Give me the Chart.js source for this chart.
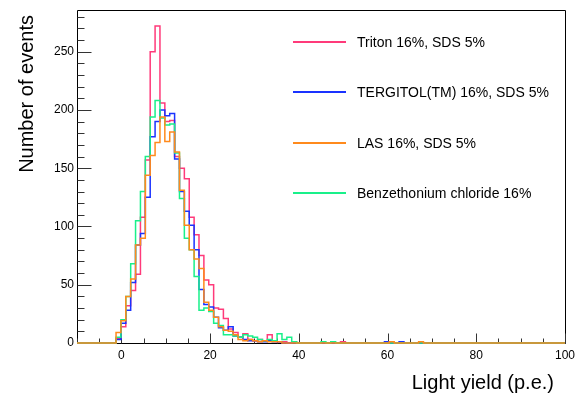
<!DOCTYPE html>
<html>
<head>
<meta charset="utf-8">
<script src="https://cdn.jsdelivr.net/npm/chart.js@4/dist/chart.umd.min.js"></script>
<style>
  html, body { margin: 0; padding: 0; background: #ffffff; }
  #c { display: block; }
</style>
</head>
<body>
<canvas id="c" width="580" height="396"></canvas>
<script>
// ---------- data ----------
const binLow = -10;
const binHigh = 100;
const nBins = 100;

const seriesNames = [
  "Triton 16%, SDS 5%",
  "TERGITOL(TM) 16%, SDS 5%",
  "LAS 16%, SDS 5%",
  "Benzethonium chloride 16%"
];

const triton = [
  0,0,0,0,0,0,0,0,4,14,
  32,45,59,108,157,250,272,206,190,191,
  160,150,141,108,93,75,54,50,30,29,
  21,12,9,5,8,3,2,3,2,7,
  2,1,1,0,1,0,0,0,0,0,
  0,0,0,0,1,0,0,0,0,0,
  0,0,0,0,0,0,0,0,0,0,
  0,0,0,0,0,0,0,0,0,0,
  0,0,0,0,0,0,0,0,0,0,
  0,0,0,0,0,0,0,0,0,0
];
const tergitol = [
  0,0,0,0,0,0,0,0,3,17,
  28,52,84,94,125,177,190,200,195,197,
  158,130,113,101,80,46,33,31,22,13,
  11,14,6,5,3,2,2,1,1,2,
  1,1,0,0,0,0,0,0,0,0,
  0,0,0,0,0,0,0,0,0,0,
  0,0,0,1,0,0,1,0,0,0,
  0,0,0,0,0,0,0,0,0,0,
  0,0,0,0,0,0,0,0,0,0,
  0,0,0,0,0,0,0,0,0,0
];
const las = [
  0,0,0,0,0,0,0,0,9,19,
  40,55,84,90,144,161,172,194,173,181,
  164,131,101,80,72,64,35,28,22,14,
  11,10,7,3,2,3,2,1,2,1,
  1,1,0,0,0,0,0,0,0,0,
  0,0,0,0,0,0,0,0,0,0,
  0,0,0,0,1,0,0,0,0,0,
  1,0,0,0,0,0,0,0,0,0,
  0,0,0,0,0,0,0,0,0,0,
  0,0,0,0,0,0,0,0,0,0
];
const benzethonium = [
  0,0,0,0,0,0,0,0,5,20,
  40,68,105,130,160,194,208,193,187,188,
  163,124,90,80,57,28,30,27,17,15,
  7,7,6,5,7,6,5,3,2,3,
  2,8,3,5,1,0,0,0,0,0,
  1,0,1,0,0,0,0,0,0,0,
  0,0,0,0,0,0,0,0,0,0,
  0,0,0,0,0,0,0,0,0,0,
  0,0,0,0,0,0,0,0,0,0,
  0,0,0,0,0,0,0,0,0,0
];

const xTickLabels = [0, 20, 40, 60, 80, 100];
const yTickLabels = [0, 50, 100, 150, 200, 250];
const yMax = 285.6;

const colors = ["#ff3a7a", "#1a33ff", "#ff8a1c", "#19f08a"];
const seriesValues = [triton, tergitol, las, benzethonium];
const drawOrder = [4, 3, 1, 2]; // LAS on top

// ---------- build histogram outlines (bin edges) ----------
const binWidth = (binHigh - binLow) / nBins;
function toSteps(counts) {
  const pts = [];
  for (let k = 0; k < counts.length; k++) {
    pts.push({ x: binLow + k * binWidth, y: counts[k] });
  }
  pts.push({ x: binHigh, y: counts[counts.length - 1] });
  return pts;
}

const FONT = "'Liberation Sans', Arial, Helvetica, sans-serif";
Chart.defaults.font.family = FONT;
Chart.defaults.color = "#000";

const decor = {
  id: "rootDecor",
  beforeDatasetsDraw(chart) {
    const ctx = chart.ctx;
    const xs = chart.scales.x, ys = chart.scales.y;
    const a = chart.chartArea;
    const L = Math.round(a.left) + 0.5, R = Math.round(a.right) + 0.5;
    const T = Math.round(a.top) + 0.5, B = Math.round(a.bottom) + 0.5;
    ctx.save();
    ctx.strokeStyle = "#000";
    ctx.lineWidth = 1;
    ctx.beginPath();
    ctx.rect(L, T, R - L, B - T);
    ctx.stroke();
    ctx.strokeStyle = "#333";
    ctx.beginPath();
    for (let v = 0; v <= yMax; v += 10) {
      const y = Math.round(ys.getPixelForValue(v)) + 0.5;
      const len = (v % 50 === 0) ? 14 : 7;
      ctx.moveTo(L, y); ctx.lineTo(L + len, y);
    }
    for (let v = -10; v <= 100; v += 5) {
      const x = Math.round(xs.getPixelForValue(v)) + 0.5;
      const len = (v % 20 === 0) ? 10 : 5;
      ctx.moveTo(x, B); ctx.lineTo(x, B - len);
    }
    ctx.stroke();
    ctx.restore();
  },
  afterDraw(chart) {
    const ctx = chart.ctx;
    ctx.save();
    ctx.fillStyle = "#000";
    ctx.font = "20px " + FONT;
    ctx.textAlign = "right";
    ctx.textBaseline = "alphabetic";
    ctx.fillText("Light yield (p.e.)", 554, 389);
    ctx.save();
    ctx.translate(33, 15);
    ctx.rotate(-Math.PI / 2);
    ctx.fillText("Number of events", 0, 0);
    ctx.restore();
    const rows = [42, 92, 143, 193];
    ctx.font = "14px " + FONT;
    ctx.textAlign = "left";
    ctx.textBaseline = "middle";
    for (let i = 0; i < seriesNames.length; i++) {
      ctx.strokeStyle = colors[i];
      ctx.lineWidth = 2;
      ctx.beginPath();
      ctx.moveTo(293, rows[i]);
      ctx.lineTo(346, rows[i]);
      ctx.stroke();
      ctx.fillText(seriesNames[i], 357, rows[i] + 1);
    }
    ctx.restore();
  }
};

new Chart(document.getElementById("c"), {
  type: "line",
  data: {
    datasets: seriesValues.map((vals, i) => ({
      label: seriesNames[i],
      data: toSteps(vals),
      borderColor: colors[i],
      backgroundColor: colors[i],
      borderWidth: 1.5,
      pointRadius: 0,
      stepped: "before",
      fill: false,
      tension: 0,
      clip: false,
      order: drawOrder[i]
    }))
  },
  options: {
    responsive: false,
    animation: false,
    devicePixelRatio: 1,
    layout: { padding: { top: 10, right: 14, left: 0, bottom: 0 } },
    plugins: { legend: { display: false }, tooltip: { enabled: false } },
    scales: {
      x: {
        type: "linear",
        min: binLow,
        max: binHigh,
        grid: { display: false, drawTicks: false },
        border: { display: false },
        ticks: { font: { size: 12 }, color: "#000", padding: 5, maxRotation: 0 },
        afterBuildTicks: (s) => { s.ticks = xTickLabels.map(v => ({ value: v })); },
        afterFit: (s) => { s.height = 53; }
      },
      y: {
        type: "linear",
        min: 0,
        max: yMax,
        grid: { display: false, drawTicks: false },
        border: { display: false },
        ticks: { font: { size: 12 }, color: "#000", padding: 3 },
        afterBuildTicks: (s) => { s.ticks = yTickLabels.map(v => ({ value: v })); },
        afterFit: (s) => { s.width = 77; }
      }
    }
  },
  plugins: [decor]
});
</script>
</body>
</html>
